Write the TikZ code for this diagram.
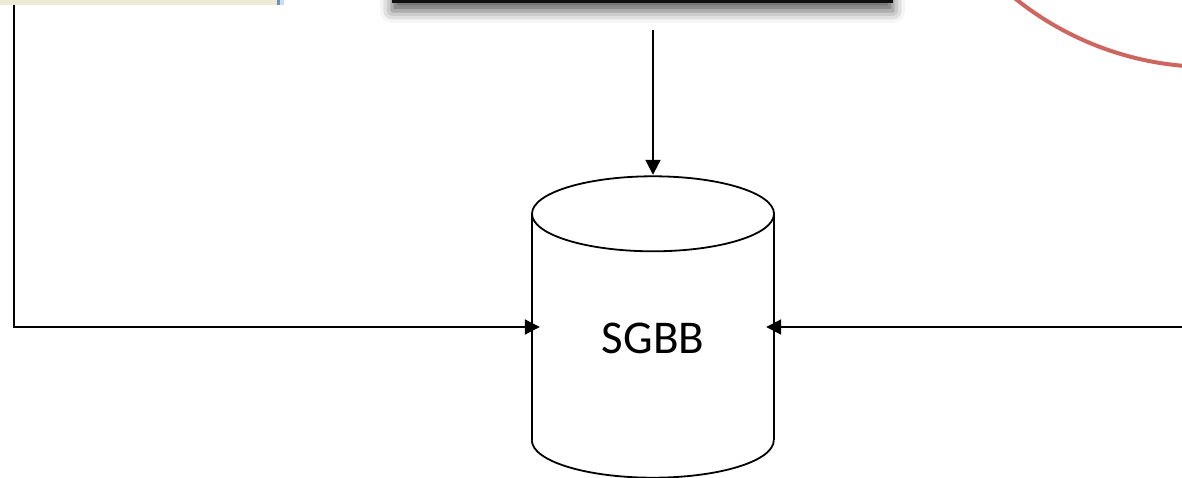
\documentclass[tikz,border=0pt]{standalone}
\usepackage{fontspec}
\newfontfamily\labelfont{Carlito}
\usetikzlibrary{arrows.meta,shadows.blur}

\definecolor{panelfill}{HTML}{EDEAD6}
\definecolor{paneledge}{HTML}{6E8FC2}
\definecolor{paneledgelight}{HTML}{C8DCF2}
\definecolor{ringred}{HTML}{CD665F}
\definecolor{barfill}{HTML}{101010}

\tikzset{
  conn/.style={line width=2pt, -{Triangle[length=15pt,width=15pt]}},
  dbline/.style={line width=1.8pt},
  panelbox/.style={fill=panelfill, draw=none, minimum width=300pt, minimum height=40pt, inner sep=0pt},
  barbox/.style={fill=barfill, draw=none, minimum width=501pt, minimum height=40pt, inner sep=0pt,
    blur shadow={shadow xshift=0pt, shadow yshift=-8pt, shadow blur radius=12pt, shadow opacity=65}},
  ringshape/.style={circle, draw=ringred, line width=4pt, minimum size=623pt, inner sep=0pt},
  dbbody/.style={draw=none, minimum width=242pt, minimum height=226pt, inner sep=0pt},
}

\begin{document}
\begin{tikzpicture}[x=1pt, y=-1pt]
  \useasboundingbox (0,0) rectangle (1182,478);

  % beige panel with its blue right edge
  \node[panelbox, anchor=south east] (panel) at (277,5) {};
  \fill[paneledge] (panel.south east) rectangle ([xshift=3pt]panel.north east);
  \fill[paneledgelight] ([xshift=3pt]panel.south east) rectangle ([xshift=7pt]panel.north east);

  % dark bar with soft shadow
  \node[barbox, anchor=south] (bar) at (642.5,3) {};

  % red ring
  \node[ringshape] (ring) at (1210,-244.5) {};

  % database cylinder
  \node[dbbody] (db) at (653,327) {};
  \draw[dbline, fill=white] (db.south west) arc[start angle=180, end angle=360, x radius=121pt, y radius=37.5pt];
  \fill[white] (db.north west) rectangle (db.south east);
  \draw[dbline] (db.north west) -- (db.south west);
  \draw[dbline] (db.north east) -- (db.south east);
  \draw[dbline] (db.north) ellipse[x radius=121pt, y radius=37.5pt];
  \node[font=\labelfont\fontsize{47}{50}\selectfont, inner sep=0pt] (dblabel) at (653,338.5) {SGBB};

  % connectors
  \coordinate (rightin) at (1182,327);
  \draw[conn] (14,0 |- panel.south) |- ([xshift=8pt]db.west);
  \draw[conn] ([yshift=-27pt]db.north |- bar.south) -- ([yshift=39pt]db.north);
  \draw[conn] (rightin) -- ([xshift=-8pt]db.east);
\end{tikzpicture}
\end{document}
